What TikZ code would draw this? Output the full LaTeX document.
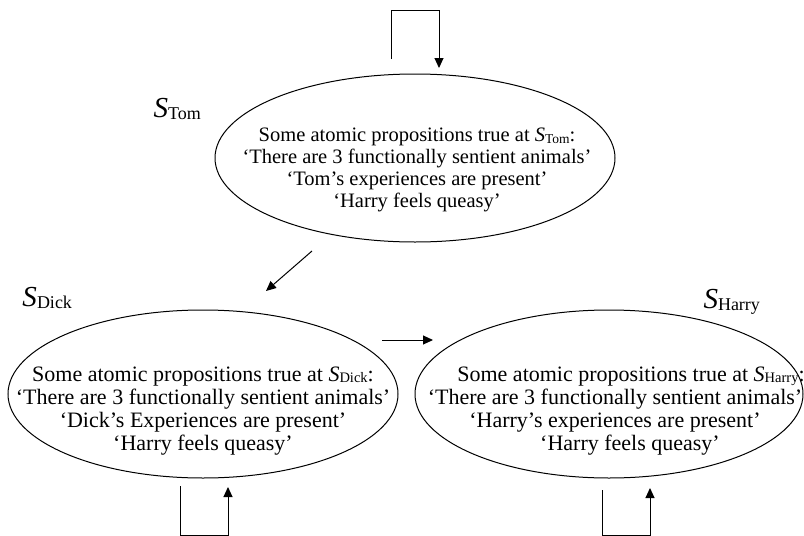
\documentclass[tikz,border=0pt]{standalone}
\usepackage{fontspec}
\setmainfont{Liberation Serif}
\usetikzlibrary{shapes.geometric,arrows.meta}
\newcommand{\bigS}[1]{{\fontsize{29}{30}\selectfont\itshape S}\raisebox{-2pt}{\fontsize{18}{19}\selectfont #1}}
\newcommand{\smallS}[2][14.5]{\textit{S}\raisebox{-1.5pt}{\fontsize{#1}{#1}\selectfont #2}}
\begin{document}
\begin{tikzpicture}[x=1pt,y=-1pt,line width=1pt,
  world/.style={draw,ellipse,minimum width=#1,minimum height=168pt,inner sep=0pt},
  props/.style={align=center,inner sep=0pt,font=\fontsize{22}{23}\selectfont},
  lbl/.style={anchor=base west,inner sep=0pt},
  arr/.style={-{Triangle[length=10pt,width=9pt]}}]
\useasboundingbox (0,0) rectangle (804,536);
% worlds
\node[world=400pt] (tom) at (415,158) {};
\node[world=390pt] (dick) at (203,394) {};
\node[world=388pt] (harry) at (609,394) {};
% propositions
\node[props,font=\fontsize{20.5}{21.8}\selectfont] (tom txt) at (417,170) {Some atomic propositions true at \smallS[13.5]{Tom}:\\
  ‘There are 3 functionally sentient animals’\\
  ‘Tom’s experiences are present’\\
  ‘Harry feels queasy’};
\node[props] (dick txt) at (203,411) {Some atomic propositions true at \smallS{Dick}:\\
  ‘There are 3 functionally sentient animals’\\
  ‘Dick’s Experiences are present’\\
  ‘Harry feels queasy’};
\node[props] (harry txt) at (615,411) {\hspace*{32pt}Some atomic propositions true at \smallS{Harry}:\\
  ‘There are 3 functionally sentient animals’\\
  ‘Harry’s experiences are present’\hspace*{24pt}\\
  \hspace*{30pt}‘Harry feels queasy’};
% state names
\node[lbl] (tom name) at (153,117) {\bigS{Tom}};
\node[lbl] (dick name) at (22,306) {\bigS{Dick}};
\node[lbl] (harry name) at (703,308) {\bigS{Harry}};
% accessibility
\coordinate (tom out) at (391,59);
\coordinate (tom in) at (439,68);
\coordinate (dick out) at (180,486);
\coordinate (dick in) at (228,487);
\coordinate (harry out) at (602,490);
\coordinate (harry in) at (650,488);
\coordinate (tom to dick) at (312,251);
\coordinate (dick from tom) at (266,291);
\coordinate (dick to harry) at (382,340);
\coordinate (harry from dick) at (433,340);
\draw[arr] (tom out) -- ++(0,-49) -| (tom in);
\draw[arr] (dick out) -- ++(0,49) -| (dick in);
\draw[arr] (harry out) -- ++(0,45) -| (harry in);
\draw[arr] (tom to dick) -- (dick from tom);
\draw[arr] (dick to harry) -- (harry from dick);
\end{tikzpicture}
\end{document}
